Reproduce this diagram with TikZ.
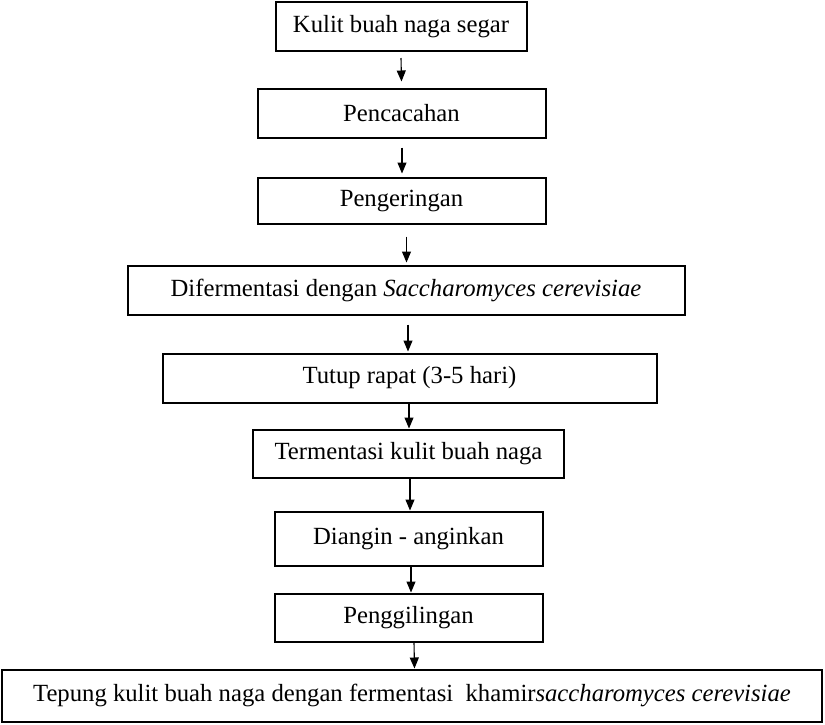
\documentclass[tikz,border=0pt]{standalone}
\usepackage{fontspec}
\setmainfont{Liberation Serif}
\usetikzlibrary{arrows.meta}
\tikzset{
  stepbox/.style={
    draw=black,
    line width=2pt,
    inner sep=0pt,
    font=\fontsize{24.7}{29}\selectfont,
    align=center
  },
  flow/.style={line width=1.1pt, -{Triangle[width=9pt,length=11pt]}},
}
\newcommand{\StepBox}[5]{%
  \node[stepbox, minimum width=#3pt, minimum height=#4pt] (#1) at #2 {#5};
}

\begin{document}
\begin{tikzpicture}[x=1pt,y=-1pt]
  \useasboundingbox (0,0) rectangle (825,724);
  % proses
  \StepBox{segar}{(401,26.5)}{251}{49}{Kulit buah naga segar}
  \StepBox{cacah}{(401.5,113)}{288}{49}{Pencacahan}
  \StepBox{kering}{(401.5,200.5)}{288}{46}{Pengeringan}
  \StepBox{fermen}{(406,290)}{557}{49}{Difermentasi dengan \textit{Saccharomyces cerevisiae}}
  \StepBox{tutup}{(409.5,378)}{494}{49}{Tutup rapat (3-5 hari)}
  \StepBox{hasil}{(408.5,453.5)}{311}{48}{Termentasi kulit buah naga}
  \StepBox{angin}{(408.5,538.5)}{268}{54}{Diangin - anginkan}
  \StepBox{giling}{(408.5,617.5)}{268}{48}{Penggilingan}
  \StepBox{tepung}{(412,695.5)}{820}{52}{Tepung kulit buah naga dengan fermentasi\ \ khamir\textit{saccharomyces cerevisiae}}
  % panah
  \draw[flow] ([yshift=-6pt]segar.south) -- ([yshift=6pt]cacah.north);
  \draw[flow] ([xshift=0.5pt,yshift=-9pt]cacah.south) -- ([xshift=0.5pt,yshift=3pt]kering.north);
  \draw[flow] ([xshift=5pt,yshift=-12pt]kering.south) -- ([xshift=0.5pt,yshift=2pt]fermen.north);
  \draw[flow] ([xshift=2pt,yshift=-9pt]fermen.south) -- ([xshift=-1.5pt,yshift=1pt]tutup.north);
  \draw[flow] ([xshift=-0.5pt]tutup.south) -- ([xshift=0.5pt]hasil.north);
  \draw[flow] ([xshift=1.5pt]hasil.south) -- ([xshift=1.5pt]angin.north);
  \draw[flow] ([xshift=2.5pt]angin.south) -- ([xshift=2.5pt]giling.north);
  \draw[flow] ([xshift=5.5pt]giling.south) -- ([xshift=2.5pt]tepung.north);
\end{tikzpicture}
\end{document}
